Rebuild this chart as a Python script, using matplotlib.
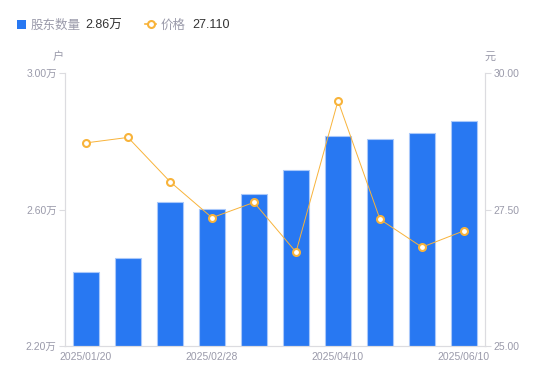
import matplotlib
matplotlib.use("Agg")
import matplotlib.pyplot as plt
from matplotlib.lines import Line2D
from matplotlib.patches import Rectangle

plt.rcParams['font.family'] = ['Liberation Sans', 'Noto Sans CJK SC', 'DejaVu Sans']

dates = ["2025/01/20", "2025/01/31", "2025/02/10", "2025/02/28", "2025/03/10",
         "2025/03/20", "2025/04/10", "2025/04/30", "2025/05/20", "2025/06/10"]
holders = [2.417, 2.458, 2.622, 2.601, 2.645, 2.716, 2.815, 2.807, 2.825, 2.858]
price = [28.72, 28.82, 28.01, 27.35, 27.63, 26.72, 29.49, 27.32, 26.81, 27.11]
left_ticks = [2.20, 2.60, 3.00]
right_ticks = [25.00, 27.50, 30.00]

BLUE = "#2878F2"
ORANGE = "#F8B33A"
GRAY_TXT = "#9A9AAA"
AXIS = "#DCDCE0"

fig = plt.figure(figsize=(5.5, 3.81), dpi=100)
ax = fig.add_axes([65/550, 1-346/381, 420/550, 273/381])
ax2 = ax.twinx()

x = list(range(len(dates)))
ax.bar(x, holders, width=0.6, color=BLUE, edgecolor="#A9C8FA", linewidth=0.8, zorder=2)
ax.set_xlim(-0.5, len(dates)-0.5)
ax.set_ylim(2.20, 3.00)
ax.set_yticks(left_ticks)
ax.set_yticklabels([f"{v:.2f}万" for v in left_ticks])

ax2.plot(x, price, color=ORANGE, linewidth=0.7, marker="o", markersize=5,
         markerfacecolor="white", markeredgecolor=ORANGE, markeredgewidth=1.5, zorder=3)
ax2.set_ylim(25.0, 30.0)
ax2.set_yticks(right_ticks)
ax2.set_yticklabels([f"{v:.2f}" for v in right_ticks])

show = [0, 3, 6, 9]
ax.set_xticks(show)
ax.set_xticklabels([dates[i] for i in show])

for a in (ax, ax2):
    for s in a.spines.values():
        s.set_color(AXIS)
        s.set_linewidth(0.8)
    a.spines['top'].set_visible(False)
    a.tick_params(axis='y', colors=AXIS, labelcolor=GRAY_TXT, labelsize=7.5, length=4, width=0.8, pad=2)
ax.tick_params(axis='x', length=0, labelcolor=GRAY_TXT, labelsize=7.5, pad=4)

fig.text(58/550, 1-57/381, "户", color=GRAY_TXT, fontsize=8, ha="center", va="center")
fig.text(490/550, 1-57/381, "元", color=GRAY_TXT, fontsize=8, ha="center", va="center")

# legend
ty = 1 - 25.5/381
fig.patches.append(Rectangle((17/550, 1-29/381), 9/550, 9/381, transform=fig.transFigure,
                             facecolor=BLUE, edgecolor="none"))
fig.text(31/550, ty, "股东数量", color=GRAY_TXT, fontsize=9, va="center")
fig.text(85/550, ty, "2.86万", color="#333333", fontsize=9, va="center")
fig.lines.append(Line2D([145/550, 156/550], [1-24/381, 1-24/381], transform=fig.transFigure,
                        color=ORANGE, linewidth=1.2))
fig.lines.append(Line2D([150.5/550], [1-24/381], transform=fig.transFigure, color=ORANGE,
                        marker="o", markersize=5, markerfacecolor="white", markeredgewidth=1.5,
                        linestyle="none"))
fig.text(161/550, ty, "价格", color=GRAY_TXT, fontsize=9, va="center")
fig.text(192/550, ty, "27.110", color="#333333", fontsize=9, va="center")

fig.savefig("out.png", dpi=100)
